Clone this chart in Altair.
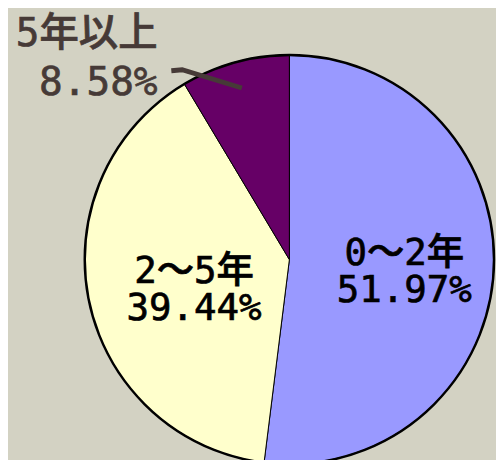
import altair as alt
import numpy as np
import pandas as pd

# ---- data ----
categories = ["0～2年", "2～5年", "5年以上"]
shares = [51.97, 39.44, 8.58]
colors = ["#9999FF", "#FFFFCC", "#660066"]

# ---- layout ----
W, H = 496, 452
CX, CY = 286, 252          # pie centre (plot coords)
R = 208                    # pie radius
FONT = "DejaVu Sans Mono, Noto Sans CJK JP, sans-serif"
BROWN = "#463A37"

df = pd.DataFrame({
    "cat": categories,
    "share": shares,
    "idx": list(range(len(categories))),
})
df["label"] = [f"{c}\n{s:.2f}%" for c, s in zip(df["cat"], df["share"])]
cum = np.cumsum(df["share"]) - df["share"] / 2
df["mid"] = cum / 100 * 2 * np.pi   # mid angle of each slice (clockwise from top)

# inside-label anchor: radius from centre + small vertical tweak
inside_r = {"0～2年": 117, "2～5年": 99}
inside_dy = {"0～2年": -2, "2～5年": 3}
ins = df[df["cat"].isin(inside_r.keys())].copy()
ins["px"] = CX + ins["cat"].map(inside_r) * np.sin(ins["mid"])
ins["py"] = CY - ins["cat"].map(inside_r) * np.cos(ins["mid"]) + ins["cat"].map(inside_dy)

# outside label (small slice) with leader line
out = df[df["cat"] == "5年以上"].iloc[0]
lead_end = (CX + 0.87 * R * np.sin(out["mid"]), CY - 0.87 * R * np.cos(out["mid"]))
label_anchor = (152, 35)   # right edge / first baseline of the outside label
lead = pd.DataFrame({
    "px": [label_anchor[0] + 14, label_anchor[0] + 25, lead_end[0]],
    "py": [label_anchor[1] + 25, label_anchor[1] + 24, lead_end[1]],
    "o": [0, 1, 2],
})
outdf = pd.DataFrame({"label": [out["label"]], "px": [label_anchor[0]], "py": [label_anchor[1]]})

base = alt.Chart(df)

pie = base.mark_arc(radius=R, stroke="black", strokeWidth=1).encode(
    theta=alt.Theta("share:Q", stack=True),
    color=alt.Color("cat:N", scale=alt.Scale(domain=categories, range=colors), legend=None),
    order=alt.Order("idx:Q", sort="ascending"),
    x=alt.value(CX),
    y=alt.value(CY),
)

ring = alt.Chart(pd.DataFrame({"a": [0]})).mark_arc(
    radius=R, theta=0, theta2=2 * np.pi, fill="white", fillOpacity=0,
    stroke="black", strokeWidth=2.5,
).encode(x=alt.value(CX), y=alt.value(CY))

inside_text = alt.Chart(ins).mark_text(
    font=FONT, fontSize=38, fontWeight=500, color="black", stroke="black", strokeWidth=0.7,
    align="center", baseline="alphabetic", lineBreak="\n", lineHeight=38,
).encode(
    x=alt.X("px:Q", scale=None),
    y=alt.Y("py:Q", scale=None),
    text="label:N",
)

leader = alt.Chart(lead).mark_line(color=BROWN, strokeWidth=5).encode(
    x=alt.X("px:Q", scale=None),
    y=alt.Y("py:Q", scale=None),
    order="o:Q",
)

outside_text = alt.Chart(outdf).mark_text(
    font=FONT, fontSize=40, fontWeight=500, color=BROWN, stroke=BROWN, strokeWidth=0.7,
    align="right", baseline="alphabetic", lineBreak="\n", lineHeight=50,
).encode(
    x=alt.X("px:Q", scale=None),
    y=alt.Y("py:Q", scale=None),
    text="label:N",
)

chart = alt.layer(pie, ring, inside_text, leader, outside_text).properties(
    width=W, height=H,
    autosize=alt.AutoSizeParams(type="none"),
    padding=0,
    background="#D3D2C3",
).configure_view(stroke=None)

chart.save("out.html", embed_options={"renderer": "svg", "actions": False})
